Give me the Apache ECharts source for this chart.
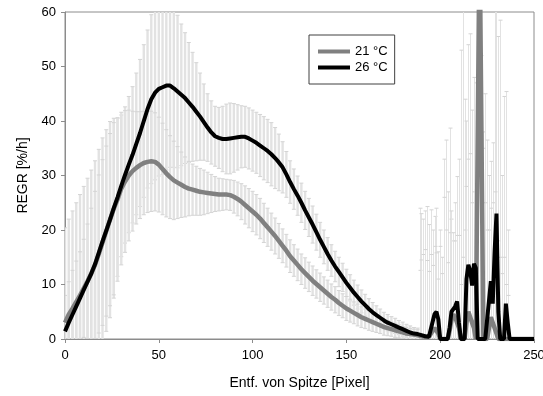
<!DOCTYPE html>
<html>
<head>
<meta charset="utf-8">
<script src="https://cdn.jsdelivr.net/npm/echarts@6/dist/echarts.min.js"></script>
<style>
  html, body { margin: 0; padding: 0; background: #fff; }
  #chart { width: 543px; height: 396px; }
</style>
</head>
<body>
<div id="chart"></div>
<script>
// distance from tip (pixel): every 2 px up to 188, then every pixel
var xs = [
  0, 2, 4, 6, 8, 10, 12, 14, 16, 18, 20, 22, 24, 26, 28, 30, 32, 34, 36, 38,
  40, 42, 44, 46, 48, 50, 52, 54, 56, 58, 60, 62, 64, 66, 68, 70, 72, 74, 76, 78,
  80, 82, 84, 86, 88, 90, 92, 94, 96, 98, 100, 102, 104, 106, 108, 110, 112, 114, 116, 118,
  120, 122, 124, 126, 128, 130, 132, 134, 136, 138, 140, 142, 144, 146, 148, 150, 152, 154, 156, 158,
  160, 162, 164, 166, 168, 170, 172, 174, 176, 178, 180, 182, 184, 186, 188,
  189, 190, 191, 192, 193, 194, 195, 196, 197, 198, 199, 200, 201, 202, 203, 204, 205, 206, 207, 208,
  209, 210, 211, 212, 213, 214, 215, 216, 217, 218, 219, 220, 221, 222, 223, 224, 225, 226, 227, 228,
  229, 230, 231, 232, 233, 234, 235, 236, 237, 238, 239, 240, 241, 242, 243, 244, 245, 246, 247, 248,
  249, 250
];

// REGR mean, 21 °C
var regr21 = [
  3.0, 4.5, 5.6, 6.8, 8.0, 9.3, 10.6, 12.0, 13.6, 15.6, 17.7, 19.8, 21.9, 23.9, 25.6, 27.6, 28.9, 30.0, 30.8, 31.4,
  31.9, 32.3, 32.5, 32.6, 32.5, 32.0, 31.2, 30.4, 29.7, 29.1, 28.7, 28.3, 27.9, 27.6, 27.4, 27.2, 27.0, 26.9, 26.8, 26.7,
  26.6, 26.5, 26.5, 26.5, 26.4, 26.1, 25.7, 25.2, 24.6, 24.0, 23.4, 22.8, 22.1, 21.3, 20.5, 19.7, 18.9, 18.0, 17.1, 16.2,
  15.2, 14.4, 13.6, 12.8, 12.1, 11.4, 10.7, 10.1, 9.5, 8.9, 8.3, 7.7, 7.2, 6.6, 6.1, 5.6, 5.2, 4.8, 4.4, 4.0,
  3.7, 3.4, 3.1, 2.8, 2.5, 2.2, 2.0, 1.8, 1.6, 1.4, 1.2, 1.0, 0.9, 0.8, 0.7,
  0.6, 0.5, 0.5, 0.4, 0.4, 0.4, 0.5, 1.5, 2.0, 1.8, 1.0, 0, 0, 0, 0, 0, 1.5, 3.5, 4.5, 4.0,
  3.0, 2.0, 0, 0, 0, 3, 5, 4, 3, 2, 0, 0, 75, 75, 0, 0, 0, 2, 4, 3,
  2, 1, 0, 0, 0, 0, 0, 0, 0, 0, 0, 0, 0, 0, 0, 0, 0, 0, 0, 0,
  0, 0
];

// standard deviation, 21 °C
var sd21 = [
  5, 6, 7, 7.5, 8, 9, 10.5, 12, 13.5, 14.5, 15.2, 15.6, 15.8, 15.8, 15, 14, 13, 12, 11, 10.3,
  9.8, 9.5, 9.3, 9.2, 9, 8.7, 8.4, 8, 7.6, 7.2, 6.6, 6, 5.5, 5, 4.7, 4.5, 4.3, 4.1, 3.8, 3.5,
  3.2, 3, 2.9, 2.8, 2.8, 3, 3.1, 3.3, 3.5, 3.6, 3.7, 3.7, 3.7, 3.6, 3.5, 3.4, 3.3, 3.2, 3.1, 3,
  3, 2.9, 2.9, 2.8, 2.8, 2.7, 2.7, 2.6, 2.6, 2.5, 2.5, 2.4, 2.4, 2.3, 2.2, 2.2, 2.1, 2, 2, 1.9,
  1.8, 1.8, 1.7, 1.6, 1.5, 1.5, 1.4, 1.3, 1.3, 1.2, 1.1, 1.1, 1, 1, 1,
  12, 14, 15, 16, 14, 12, 15, 12, 15, 14, 10, 17, 12, 26, 20, 14, 18, 20, 15, 14,
  16, 17, 10, 15, 20, 25, 28, 30, 22, 25, 20, 30, 0, 0, 35, 25, 20, 18, 20, 22,
  25, 20, 18, 15, 12, 15, 10, 8, 0, 0, 0, 0, 0, 0, 0, 0, 0, 0, 0, 0,
  0, 0
];

// REGR mean, 26 °C
var regr26 = [
  1.4, 3.0, 4.5, 6.0, 7.5, 9.0, 10.5, 12.0, 13.7, 15.8, 17.9, 19.9, 21.9, 24.0, 26.0, 28.1, 30.1, 32.0, 33.8, 35.8,
  37.8, 40.0, 42.2, 44.0, 45.2, 45.9, 46.2, 46.5, 46.5, 46.0, 45.4, 44.8, 44.2, 43.4, 42.6, 41.7, 40.8, 39.8, 38.8, 37.9,
  37.2, 36.9, 36.7, 36.7, 36.8, 36.9, 37.0, 37.1, 37.1, 36.8, 36.4, 36.0, 35.5, 35.0, 34.5, 33.9, 33.2, 32.4, 31.5, 30.2,
  28.8, 27.5, 26.3, 25.0, 23.6, 22.3, 21.0, 19.6, 18.2, 16.9, 15.6, 14.4, 13.3, 12.3, 11.3, 10.3, 9.4, 8.5, 7.7, 6.9,
  6.2, 5.5, 4.9, 4.4, 3.9, 3.4, 3.0, 2.7, 2.4, 2.1, 1.8, 1.5, 1.2, 1.0, 0.9,
  0.8, 0.7, 0.6, 0.5, 0.5, 0.4, 0.6, 3.2, 4.6, 5.0, 3.6, 0, 0, 0, 0, 0, 2.0, 5.0, 5.5, 6.0,
  6.9, 3.0, 0, 0, 0, 11, 13.6, 12.5, 9.8, 13.8, 13.0, 0, 0, 0, 0, 0, 0, 7.0, 10.6, 6.5,
  16, 23, 5, 0, 0, 0, 6.5, 3, 0, 0, 0, 0, 0, 0, 0, 0, 0, 0, 0, 0,
  0, 0
];

// standard deviation, 26 °C
var sd26 = [
  19, 19, 19, 19, 19, 19, 19, 19, 19, 19, 19, 18.5, 18, 16.5, 14.5, 13, 12.5, 12.5, 12.5, 13,
  13.5, 14, 14.5, 15.5, 16, 16, 16, 15.5, 15, 14.5, 14, 13, 12, 11, 10, 9, 8, 7, 6.2, 5.8,
  5.5, 5.6, 6, 6.4, 6.5, 6.3, 6, 5.7, 5.6, 5.6, 5.6, 5.6, 5.7, 5.8, 5.8, 5.8, 5.6, 5.2, 4.7, 4.2,
  3.9, 3.7, 3.6, 3.6, 3.5, 3.5, 3.4, 3.3, 3.2, 3.1, 3, 2.9, 2.8, 2.7, 2.6, 2.5, 2.4, 2.3, 2.2, 2.1,
  2, 1.9, 1.8, 1.7, 1.6, 1.5, 1.5, 1.4, 1.4, 1.3, 1.3, 1.2, 1.2, 1.1, 1.1,
  23.2, 22.3, 21.4, 23, 23.8, 20.6, 23.1, 16.8, 17.9, 19, 12.4, 20, 15, 33, 36.5, 27, 36.7, 17, 12.5, 19,
  22.9, 30, 53, 62, 44, 29, 40.4, 43.5, 32.2, 34.2, 34, 40, 62, 52, 38, 45, 36.5, 23, 22, 29.5,
  46, 39, 50.5, 58.5, 30, 44.5, 38.9, 17, 0, 0, 0, 0, 0, 0, 0, 0, 0, 0, 0, 0,
  0, 0
];

var names = ['21 °C', '26 °C'];
var FONT = '"Liberation Sans", Arial, sans-serif';

function lineData(ys) {
  return xs.map(function (x, i) { return [x, ys[i]]; });
}
function errData(ys, sds) {
  var out = [];
  xs.forEach(function (x, i) {
    if (sds[i] > 0) out.push([x, ys[i] - sds[i], ys[i] + sds[i]]);
  });
  return out;
}

// vertical error bar with small caps, clipped to the plot box
function renderErr(params, api) {
  var cs = params.coordSys;
  var top = cs.y, bottom = cs.y + cs.height;
  var xv = api.value(0);
  var p0 = api.coord([xv, api.value(1)]);
  var p1 = api.coord([xv, api.value(2)]);
  var w = xv < 189 ? 2.4 : 1;
  var x = xv < 189 ? p0[0] : Math.round(p0[0]) + 0.5;
  var yLo = Math.min(bottom, p0[1]);
  var yHi = Math.max(top, p1[1]);
  var kids = [{
    type: 'line',
    shape: { x1: x, y1: yLo, x2: x, y2: yHi },
    style: { stroke: '#e2e2e2', lineWidth: w }
  }];
  if (p1[1] >= top) {
    kids.push({ type: 'line', shape: { x1: x - 2, y1: p1[1], x2: x + 2, y2: p1[1] },
      style: { stroke: '#d4d4d4', lineWidth: 1 } });
  }
  if (p0[1] <= bottom) {
    kids.push({ type: 'line', shape: { x1: x - 2, y1: p0[1], x2: x + 2, y2: p0[1] },
      style: { stroke: '#d4d4d4', lineWidth: 1 } });
  }
  return { type: 'group', children: kids };
}

var chart = echarts.init(document.getElementById('chart'), null, { renderer: 'canvas' });
chart.setOption({
  animation: false,
  backgroundColor: '#fff',
  textStyle: { fontFamily: FONT },
  grid: {
    left: 65, right: 9, top: 12, bottom: 57,
    outerBoundsMode: 'none', containLabel: false,
    show: true, borderColor: '#8c8c8c', borderWidth: 1
  },
  legend: {
    data: names,
    orient: 'vertical',
    left: 309, top: 35,
    padding: [10, 7, 10, 9],
    icon: 'rect',
    itemWidth: 32, itemHeight: 4, itemGap: 3,
    borderColor: '#404040', borderWidth: 1,
    textStyle: { fontSize: 13, color: '#000', fontFamily: FONT }
  },
  xAxis: {
    type: 'value', min: 0, max: 250, interval: 50,
    name: 'Entf. von Spitze [Pixel]', nameLocation: 'middle', nameGap: 37,
    nameTextStyle: { fontSize: 14, color: '#000', fontFamily: FONT },
    axisLine: { lineStyle: { color: '#8c8c8c', width: 1 } },
    axisTick: { length: 4, lineStyle: { color: '#8c8c8c' } },
    axisLabel: { fontSize: 13, color: '#000', margin: 10, fontFamily: FONT },
    splitLine: { show: false }
  },
  yAxis: {
    type: 'value', min: 0, max: 60, interval: 10,
    name: 'REGR [%/h]', nameLocation: 'middle', nameGap: 34,
    nameTextStyle: { fontSize: 14, color: '#000', fontFamily: FONT },
    axisLine: { show: true, lineStyle: { color: '#8c8c8c', width: 1 } },
    axisTick: { show: true, length: 4, lineStyle: { color: '#8c8c8c' } },
    axisLabel: { fontSize: 13, color: '#000', margin: 9, fontFamily: FONT },
    splitLine: { show: false }
  },
  series: [
    {
      type: 'custom', name: 'err26', renderItem: renderErr, clip: true,
      data: errData(regr26, sd26), encode: { x: 0, y: [1, 2] }, z: 1, silent: true
    },
    {
      type: 'custom', name: 'err21', renderItem: renderErr, clip: true,
      data: errData(regr21, sd21), encode: { x: 0, y: [1, 2] }, z: 1, silent: true
    },
    {
      type: 'line', name: names[0], data: lineData(regr21),
      symbol: 'none', clip: true, z: 3,
      lineStyle: { color: '#808080', width: 4.5 }, itemStyle: { color: '#808080' }
    },
    {
      type: 'line', name: names[1], data: lineData(regr26),
      symbol: 'none', clip: true, z: 4,
      lineStyle: { color: '#000', width: 4 }, itemStyle: { color: '#000' }
    }
  ]
});
</script>
</body>
</html>
